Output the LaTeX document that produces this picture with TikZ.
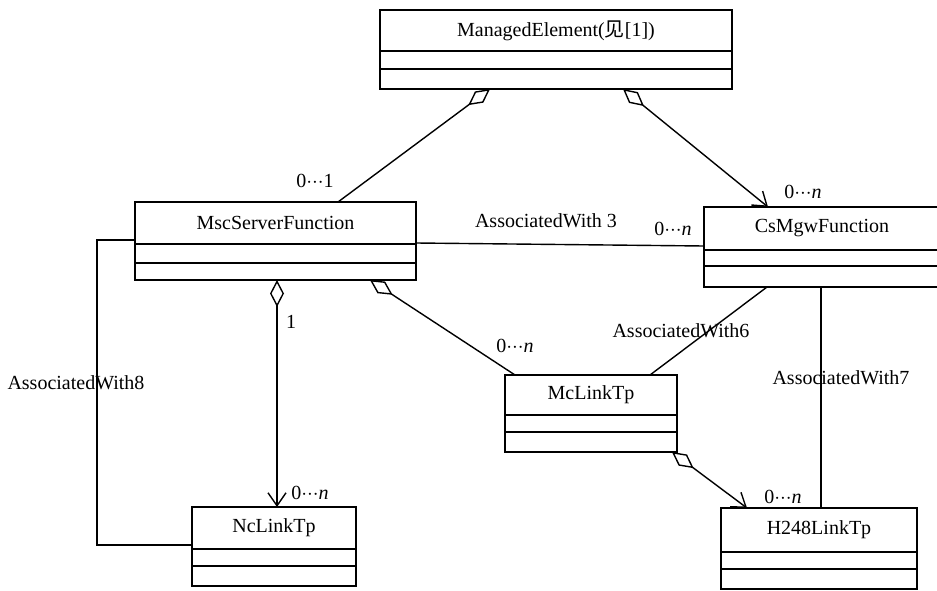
\documentclass[tikz,border=0pt]{standalone}
\usepackage{fontspec}
\setmainfont{Liberation Serif}
\newfontfamily\cjk{Noto Sans CJK SC}
\usetikzlibrary{arrows.meta}

\tikzset{
  uml/.style={line width=1.4pt},
  classbox/.style={draw, line width=1.4pt, rectangle, inner sep=0pt, outer sep=0pt, anchor=north west},
  classname/.style={inner sep=0pt, font=\fontsize{20}{22}\selectfont},
  lbl/.style={inner sep=0pt, font=\fontsize{20}{22}\selectfont},
  aggr/.style={uml, {Diamond[open,length=27pt,width=14pt]}-},
  aggrnav/.style={uml, {Diamond[open,length=27pt,width=14pt]}-{Straight Barb[length=13pt,width=18pt]}},
}

% class box: name, left, top, right, bottom, first divider, second divider, title
\newcommand{\umlclass}[8]{%
  \node[classbox, minimum width={(#4-#2)*1pt}, minimum height={(#5-#3)*1pt}] (#1) at (#2,#3) {};
  \node[classname] (#1-name) at ({(#2+#4)/2},{(#3+#6)/2}) {#8};
  \draw[line width=1.4pt] (#2,#6) -- (#4,#6) (#2,#7) -- (#4,#7);
}

% multiplicity dots
\newcommand{\mdots}{${\cdotp}{\cdotp}{\cdotp}$}
\newcommand{\zeron}{0\mdots\textit{n}}

\begin{document}
\begin{tikzpicture}[x=1pt,y=-1pt]
  \useasboundingbox (0,0) rectangle (937,591);
  \clip (0,0) rectangle (937,591);

  % classes
  \umlclass{me}{380}{10}{732}{89}{51}{69}{ManagedElement({\cjk 见}[1])}
  \umlclass{msf}{135}{202}{416}{280}{244}{263}{MscServerFunction}
  \umlclass{cmf}{704}{207}{940}{287}{250}{266}{CsMgwFunction}
  \umlclass{mcl}{505}{375}{677}{452}{415}{432}{McLinkTp}
  \umlclass{ncl}{192}{507}{356}{586}{549}{566}{NcLinkTp}
  \umlclass{h248}{721}{508}{917}{589}{552}{569}{H248LinkTp}

  % aggregations from ManagedElement
  \draw[aggr] ([xshift=110pt]me.south west) -- ([xshift=203pt]msf.north west);
  \node[lbl] (l01) at (315,181) {0\mdots1};
  \draw[aggrnav] ([xshift=243pt]me.south west) -- ([xshift=64pt]cmf.north west);
  \node[lbl] (lcmfn) at (803,192) {\zeron};

  % AssociatedWith 3
  \draw[uml] ([yshift=-41pt]msf.north east) -- ([yshift=-39pt]cmf.north west);
  \node[lbl] (aw3) at (546,221) {AssociatedWith 3};
  \node[lbl] (aw3n) at (673,229) {\zeron};

  % MscServerFunction to NcLinkTp
  \draw[aggrnav] ([xshift=142pt]msf.south west) -- ([xshift=85pt]ncl.north west);
  \node[lbl] (l1) at (291,322) {1};
  \node[lbl] (lncln) at (310,493) {\zeron};

  % MscServerFunction to McLinkTp
  \draw[aggr] ([xshift=235pt]msf.south west) -- ([xshift=10pt]mcl.north west);
  \node[lbl] (lmcln) at (515,346) {\zeron};

  % AssociatedWith6
  \draw[uml] ([xshift=63pt]cmf.south west) -- ([xshift=145pt]mcl.north west);
  \node[lbl] (aw6) at (681,331) {AssociatedWith6};

  % AssociatedWith7
  \draw[uml] ([xshift=117pt]cmf.south west) -- ([xshift=100pt]h248.north west);
  \node[lbl] (aw7) at (841,378) {AssociatedWith7};

  % McLinkTp to H248LinkTp
  \draw[aggrnav] ([xshift=167pt]mcl.south west) -- ([xshift=26pt]h248.north west);
  \node[lbl] (lh248n) at (783,497) {\zeron};

  % AssociatedWith8
  \coordinate (aw8a) at (97,240);
  \coordinate (aw8b) at (97,545);
  \draw[uml] ([yshift=-38pt]msf.north west) -- (aw8a) -- (aw8b) -- ([yshift=-38pt]ncl.north west);
  \node[lbl] (aw8) at (76,383) {AssociatedWith8};
\end{tikzpicture}
\end{document}
